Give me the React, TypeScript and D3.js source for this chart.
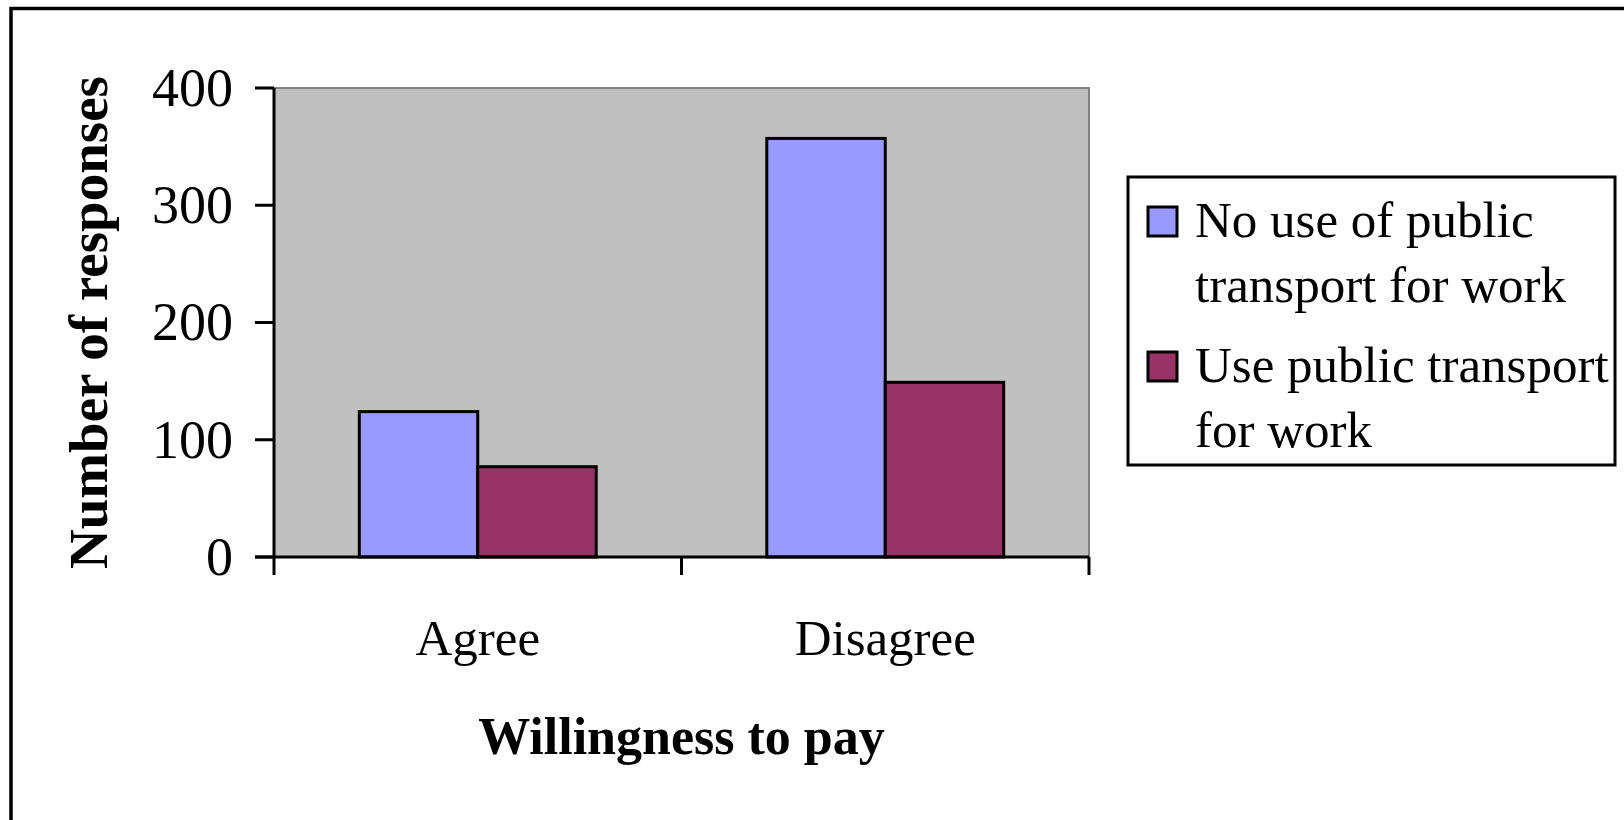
import React from "react";
import * as d3 from "d3";

const categories: string[] = ["Agree", "Disagree"];
const seriesNames: string[] = ["No use of public transport for work", "Use public transport for work"];
const noUseValues: number[] = [124, 357];
const useValues: number[] = [77, 149];
const yTickValues: number[] = [0, 100, 200, 300, 400];
const legendLines: string[][] = [
  ["No use of public", "transport for work"],
  ["Use public transport", "for work"],
];
const colors: string[] = ["#9999FF", "#993366"];

const W = 1624;
const H = 820;
const FONT = "'Liberation Serif', 'Times New Roman', Times, serif";

export default function App() {
  const left = 274, right = 1089, top = 88, bottom = 557;
  const x0 = d3.scaleBand<string>().domain(categories).range([left, right]).padding(0);
  const x1 = d3
    .scaleBand<string>()
    .domain(seriesNames)
    .range([0, x0.bandwidth()])
    .paddingInner(0)
    .paddingOuter(0.72);
  const y = d3.scaleLinear().domain([0, 400]).range([bottom, top]);
  const seriesValues = [noUseValues, useValues];

  const catBoundaries = [left, ...categories.map((c) => (x0(c) as number) + x0.bandwidth())];

  return (
    <div style={{ position: "absolute", left: 0, top: 0 }}>
      <svg width={W} height={H} style={{ display: "block", background: "#fff" }}>
        {/* outer chart border (extends beyond right and bottom) */}
        <rect x={11} y={8.5} width={W + 20} height={H + 20} fill="#fff" stroke="#000" strokeWidth={3.5} />

        {/* plot area */}
        <rect x={left} y={top} width={right - left} height={bottom - top} fill="#C0C0C0" stroke="#808080" strokeWidth={2} />

        {/* bars */}
        {categories.map((c, ci) =>
          seriesNames.map((s, si) => {
            const v = seriesValues[si][ci];
            const bx = (x0(c) as number) + (x1(s) as number);
            return (
              <rect
                key={c + s}
                x={bx}
                y={y(v)}
                width={x1.bandwidth()}
                height={y(0) - y(v)}
                fill={colors[si]}
                stroke="#000"
                strokeWidth={3}
              />
            );
          })
        )}

        {/* y axis */}
        <line x1={left} x2={left} y1={top} y2={bottom} stroke="#000" strokeWidth={3} />
        {yTickValues.map((t) => (
          <g key={t}>
            <line x1={left - 19} x2={left} y1={y(t)} y2={y(t)} stroke="#000" strokeWidth={3} />
            <text
              x={233}
              y={y(t)}
              dy="0.33em"
              textAnchor="end"
              fontFamily={FONT}
              fontSize={54}
              fill="#000"
            >
              {t}
            </text>
          </g>
        ))}

        {/* x axis */}
        <line x1={left - 19} x2={right} y1={bottom} y2={bottom} stroke="#000" strokeWidth={3} />
        {catBoundaries.map((b, i) => (
          <line key={i} x1={b} x2={b} y1={bottom} y2={bottom + 18} stroke="#000" strokeWidth={3} />
        ))}
        {categories.map((c) => (
          <text
            key={c}
            x={(x0(c) as number) + x0.bandwidth() / 2}
            y={655}
            textAnchor="middle"
            fontFamily={FONT}
            fontSize={51}
            fill="#000"
          >
            {c}
          </text>
        ))}

        {/* axis titles */}
        <text x={(left + right) / 2} y={754} textAnchor="middle" fontFamily={FONT} fontSize={52} fontWeight="bold" fill="#000">
          Willingness to pay
        </text>
        <text
          transform={`translate(107, ${(top + bottom) / 2}) rotate(-90)`}
          textAnchor="middle"
          fontFamily={FONT}
          fontSize={55}
          fontWeight="bold"
          fill="#000"
        >
          Number of responses
        </text>

        {/* legend */}
        <rect x={1128} y={177} width={487} height={288} fill="#fff" stroke="#000" strokeWidth={3} />
        {legendLines.map((lines, i) => {
          const sy = 207 + i * 145;
          return (
            <g key={i}>
              <rect x={1148} y={sy} width={29} height={29} fill={colors[i]} stroke="#000" strokeWidth={3} />
              {lines.map((ln, j) => (
                <text key={j} x={1195} y={237 + i * 145 + j * 64.5} fontFamily={FONT} fontSize={51} fill="#000">
                  {ln}
                </text>
              ))}
            </g>
          );
        })}
      </svg>
    </div>
  );
}
